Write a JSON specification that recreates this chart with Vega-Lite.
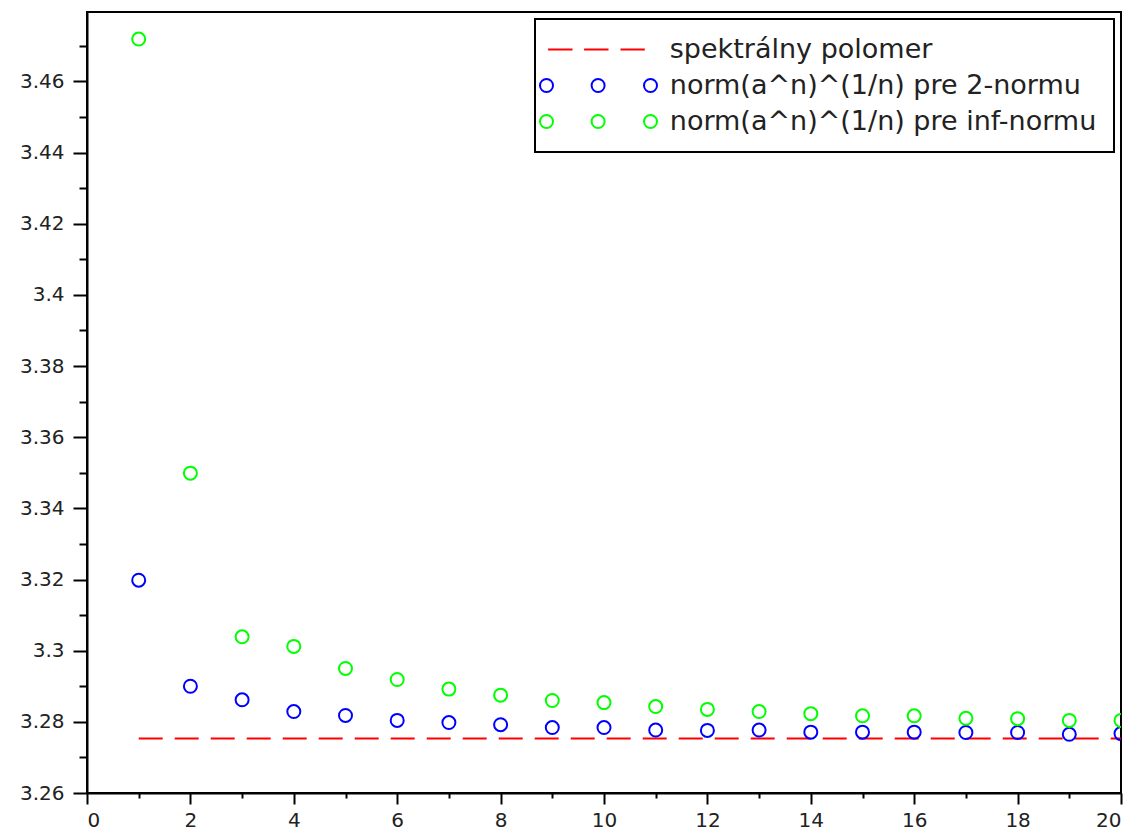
{
  "$schema": "https://vega.github.io/schema/vega-lite/v6.json",
  "width": 1034,
  "height": 781,
  "autosize": {"type": "none"},
  "padding": {"left": 87, "top": 12, "right": 14, "bottom": 39},
  "background": "white",
  "config": {
    "view": {"stroke": "#000", "strokeWidth": 2},
    "axis": {
      "grid": false,
      "title": null,
      "domainColor": "#000",
      "domainWidth": 2,
      "tickColor": "#000",
      "tickWidth": 2,
      "labelFont": "DejaVu Sans",
      "labelFontSize": 20,
      "labelColor": "#222",
      "labelOverlap": false
    },
    "legend": {
      "title": null,
      "orient": "none",
      "legendX": 448,
      "legendY": 7,
      "direction": "vertical",
      "padding": 17,
      "rowPadding": 8,
      "fillColor": "white",
      "strokeColor": "#000",
      "strokeWidth": 2,
      "labelFont": "DejaVu Sans",
      "labelFontSize": 27,
      "labelColor": "#222",
      "labelLimit": 1000,
      "symbolSize": 400,
      "symbolStrokeWidth": 2,
      "symbolOffset": 85,
      "labelOffset": 5.8
    }
  },
  "datasets": {
    "radius": [
      {"n": 1, "value": 3.2753},
      {"n": 20, "value": 3.2753}
    ],
    "points": [
      {"n": 1, "value": 3.3198, "series": "norm(a^n)^(1/n) pre 2-normu"},
      {"n": 2, "value": 3.2900, "series": "norm(a^n)^(1/n) pre 2-normu"},
      {"n": 3, "value": 3.2862, "series": "norm(a^n)^(1/n) pre 2-normu"},
      {"n": 4, "value": 3.2829, "series": "norm(a^n)^(1/n) pre 2-normu"},
      {"n": 5, "value": 3.2818, "series": "norm(a^n)^(1/n) pre 2-normu"},
      {"n": 6, "value": 3.2804, "series": "norm(a^n)^(1/n) pre 2-normu"},
      {"n": 7, "value": 3.2798, "series": "norm(a^n)^(1/n) pre 2-normu"},
      {"n": 8, "value": 3.2792, "series": "norm(a^n)^(1/n) pre 2-normu"},
      {"n": 9, "value": 3.2784, "series": "norm(a^n)^(1/n) pre 2-normu"},
      {"n": 10, "value": 3.2784, "series": "norm(a^n)^(1/n) pre 2-normu"},
      {"n": 11, "value": 3.2777, "series": "norm(a^n)^(1/n) pre 2-normu"},
      {"n": 12, "value": 3.2776, "series": "norm(a^n)^(1/n) pre 2-normu"},
      {"n": 13, "value": 3.2777, "series": "norm(a^n)^(1/n) pre 2-normu"},
      {"n": 14, "value": 3.2771, "series": "norm(a^n)^(1/n) pre 2-normu"},
      {"n": 15, "value": 3.2771, "series": "norm(a^n)^(1/n) pre 2-normu"},
      {"n": 16, "value": 3.2771, "series": "norm(a^n)^(1/n) pre 2-normu"},
      {"n": 17, "value": 3.2770, "series": "norm(a^n)^(1/n) pre 2-normu"},
      {"n": 18, "value": 3.2770, "series": "norm(a^n)^(1/n) pre 2-normu"},
      {"n": 19, "value": 3.2765, "series": "norm(a^n)^(1/n) pre 2-normu"},
      {"n": 20, "value": 3.2767, "series": "norm(a^n)^(1/n) pre 2-normu"},
      {"n": 1, "value": 3.4719, "series": "norm(a^n)^(1/n) pre inf-normu"},
      {"n": 2, "value": 3.3499, "series": "norm(a^n)^(1/n) pre inf-normu"},
      {"n": 3, "value": 3.3039, "series": "norm(a^n)^(1/n) pre inf-normu"},
      {"n": 4, "value": 3.3012, "series": "norm(a^n)^(1/n) pre inf-normu"},
      {"n": 5, "value": 3.2950, "series": "norm(a^n)^(1/n) pre inf-normu"},
      {"n": 6, "value": 3.2919, "series": "norm(a^n)^(1/n) pre inf-normu"},
      {"n": 7, "value": 3.2892, "series": "norm(a^n)^(1/n) pre inf-normu"},
      {"n": 8, "value": 3.2875, "series": "norm(a^n)^(1/n) pre inf-normu"},
      {"n": 9, "value": 3.2860, "series": "norm(a^n)^(1/n) pre inf-normu"},
      {"n": 10, "value": 3.2854, "series": "norm(a^n)^(1/n) pre inf-normu"},
      {"n": 11, "value": 3.2843, "series": "norm(a^n)^(1/n) pre inf-normu"},
      {"n": 12, "value": 3.2835, "series": "norm(a^n)^(1/n) pre inf-normu"},
      {"n": 13, "value": 3.2829, "series": "norm(a^n)^(1/n) pre inf-normu"},
      {"n": 14, "value": 3.2823, "series": "norm(a^n)^(1/n) pre inf-normu"},
      {"n": 15, "value": 3.2817, "series": "norm(a^n)^(1/n) pre inf-normu"},
      {"n": 16, "value": 3.2817, "series": "norm(a^n)^(1/n) pre inf-normu"},
      {"n": 17, "value": 3.2810, "series": "norm(a^n)^(1/n) pre inf-normu"},
      {"n": 18, "value": 3.2809, "series": "norm(a^n)^(1/n) pre inf-normu"},
      {"n": 19, "value": 3.2804, "series": "norm(a^n)^(1/n) pre inf-normu"},
      {"n": 20, "value": 3.2804, "series": "norm(a^n)^(1/n) pre inf-normu"}
    ]
  },
  "encoding": {
    "x": {
      "field": "n",
      "type": "quantitative",
      "scale": {"domain": [0, 20], "nice": false, "zero": false},
      "axis": {
        "values": [0,1,2,3,4,5,6,7,8,9,10,11,12,13,14,15,16,17,18,19,20],
        "format": "d",
        "labelExpr": "datum.value % 2 === 0 ? datum.label : ''",
        "tickSize": {"condition": {"test": "datum.value % 2 === 0", "value": 11}, "value": 5},
        "labelPadding": 6
      }
    },
    "y": {
      "field": "value",
      "type": "quantitative",
      "scale": {"domain": [3.26, 3.4795], "nice": false, "zero": false},
      "axis": {
        "values": [3.26,3.27,3.28,3.29,3.3,3.31,3.32,3.33,3.34,3.35,3.36,3.37,3.38,3.39,3.4,3.41,3.42,3.43,3.44,3.45,3.46,3.47],
        "format": ".2~f",
        "labelExpr": "round(datum.value*100) % 2 === 0 ? datum.label : ''",
        "tickSize": {"condition": {"test": "round(datum.value*100) % 2 === 0", "value": 14}, "value": 8},
        "labelPadding": 9
      }
    }
  },
  "layer": [
    {
      "data": {"name": "radius"},
      "mark": {"type": "line", "color": "#ff0000", "strokeWidth": 2, "strokeDash": [24, 12]}
    },
    {
      "data": {"name": "points"},
      "mark": {"type": "point", "filled": false, "size": 400, "strokeWidth": 2, "opacity": 0},
      "encoding": {
        "color": {
          "field": "series",
          "type": "nominal",
          "scale": {
            "domain": ["spektrálny polomer", "norm(a^n)^(1/n) pre 2-normu", "norm(a^n)^(1/n) pre inf-normu"],
            "range": ["#ff0000", "#0000ff", "#00ff00"]
          },
          "legend": {"encode": {"legend": {"strokeWidth": {"value": 2}}}}
        },
        "shape": {
          "field": "series",
          "type": "nominal",
          "scale": {
            "domain": ["spektrálny polomer", "norm(a^n)^(1/n) pre 2-normu", "norm(a^n)^(1/n) pre inf-normu"],
            "range": [
              "M-10.24,0H-7.8M-6.64,0H-4.2M-3,0H-0.57",
              "M-9.75,0A0.65,0.65 0 1,1 -11.05,0A0.65,0.65 0 1,1 -9.75,0ZM-4.59,0A0.65,0.65 0 1,1 -5.89,0A0.65,0.65 0 1,1 -4.59,0ZM0.65,0A0.65,0.65 0 1,1 -0.65,0A0.65,0.65 0 1,1 0.65,0Z",
              "M-9.75,0A0.65,0.65 0 1,1 -11.05,0A0.65,0.65 0 1,1 -9.75,0ZM-4.59,0A0.65,0.65 0 1,1 -5.89,0A0.65,0.65 0 1,1 -4.59,0ZM0.65,0A0.65,0.65 0 1,1 -0.65,0A0.65,0.65 0 1,1 0.65,0Z"
            ]
          },
          "legend": {"encode": {"legend": {"strokeWidth": {"value": 2}}}}
        }
      }
    },
    {
      "data": {"name": "points"},
      "mark": {"type": "point", "shape": "circle", "filled": false, "size": 169, "strokeWidth": 2, "opacity": 1, "clip": true},
      "encoding": {
        "color": {"field": "series", "type": "nominal"}
      }
    }
  ]
}
